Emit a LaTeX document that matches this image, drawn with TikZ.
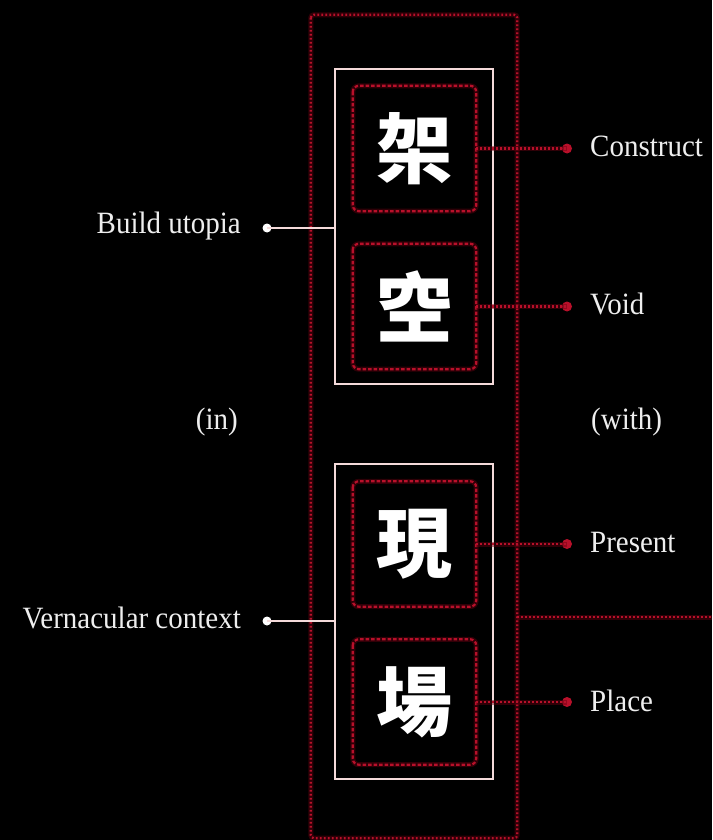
\documentclass[tikz,border=0pt]{standalone}
\usepackage{fontspec}
\setmainfont[FakeStretch=0.935]{Liberation Serif}
\newfontfamily\cjk{Noto Sans CJK TC}
\definecolor{redline}{HTML}{B8102A}
\definecolor{redglow}{HTML}{6A0010}
\definecolor{frameline}{HTML}{F4DADA}
\definecolor{labeltext}{HTML}{EEEEEE}
\begin{document}
\begin{tikzpicture}[x=1pt,y=-1pt,
  redglowline/.style={draw=redglow, line width=5pt, opacity=.45},
  reddots/.style={draw=redline, line width=2.2pt, dash pattern=on 1.8pt off 2.2pt},
  reddash/.style={draw=redline, line width=2.2pt, dash pattern=on 3.5pt off 2pt},
  outerframe/.style={rectangle, rounded corners=3pt, minimum width=206pt, minimum height=823pt, inner sep=0pt},
  whitebox/.style={rectangle, draw=frameline, line width=2pt, minimum width=158pt, minimum height=315pt, inner sep=0pt},
  charbox/.style={rectangle, rounded corners=6pt, minimum width=123pt, minimum height=125pt, inner sep=0pt,
                  font=\cjk\bfseries\fontsize{76}{76}\selectfont, text=white},
  reddot/.style={circle, fill=redline, minimum size=10pt, inner sep=0pt},
  whitedot/.style={circle, fill=white, minimum size=9pt, inner sep=0pt},
  lbl/.style={text=labeltext, font=\fontsize{31}{31}\selectfont, inner sep=0pt},
  whiteline/.style={draw=frameline, line width=2pt}
]
\fill[black] (0,0) rectangle (712,840);
\useasboundingbox (0,0) rectangle (712,840);

% outer dotted frame
\node[outerframe] (outer) at (414,426.5) {};
\draw[redglowline, rounded corners=3pt] (outer.north west) rectangle (outer.south east);
\draw[reddots, rounded corners=3pt] (outer.north west) rectangle (outer.south east);

% the two white panels
\node[whitebox] (upper) at (414,226.5) {};
\node[whitebox] (lower) at (414,621) {};

% character boxes
\node[charbox] (jia)   at (414.5,148.5) {架};
\node[charbox] (kong)  at (414.5,306.5) {空};
\node[charbox] (xian)  at (414.5,544)   {現};
\node[charbox] (chang) at (414.5,702)   {場};
\foreach \b in {jia,kong,xian,chang}{
  \draw[redglowline, rounded corners=6pt] (\b.north west) rectangle (\b.south east);
  \draw[reddash, rounded corners=6pt] (\b.north west) rectangle (\b.south east);
}

% right-hand red markers and labels
\node[reddot] (djia)   at (567,148.5) {};
\node[reddot] (dkong)  at (567,306.5) {};
\node[reddot] (dxian)  at (567,544)   {};
\node[reddot] (dchang) at (567,702)   {};
\foreach \b/\d in {jia/djia,kong/dkong,xian/dxian,chang/dchang}{
  \draw[redglowline] (\b.east) -- (\d.center);
  \draw[reddots] (\b.east) -- (\d.center);
}
\node[lbl, anchor=base west] (tconstruct) at (590,157) {Construct};
\node[lbl, anchor=base west] (tvoid)      at (590,314) {Void};
\node[lbl, anchor=base west] (tpresent)   at (590,552) {Present};
\node[lbl, anchor=base west] (tplace)     at (590,711) {Place};

% red line leaving the frame to the right
\coordinate (rightend) at (712,617);
\draw[redglowline] (outer.east |- rightend) -- (rightend);
\draw[reddots] (outer.east |- rightend) -- (rightend);

% left-hand white markers and labels
\node[whitedot] (dupper) at (267,228) {};
\node[whitedot] (dlower) at (267,621) {};
\draw[whiteline] (dupper.center) -- (upper.west |- dupper);
\draw[whiteline] (dlower.center) -- (lower.west |- dlower);
\node[lbl, anchor=base east] (tbuild) at (241,233) {Build utopia};
\node[lbl, anchor=base east] (tvern)  at (241,628) {Vernacular context};

% connecting words
\node[lbl, anchor=base east] (tin)   at (238,429) {(in)};
\node[lbl, anchor=base west] (twith) at (591,429) {(with)};
\end{tikzpicture}
\end{document}
